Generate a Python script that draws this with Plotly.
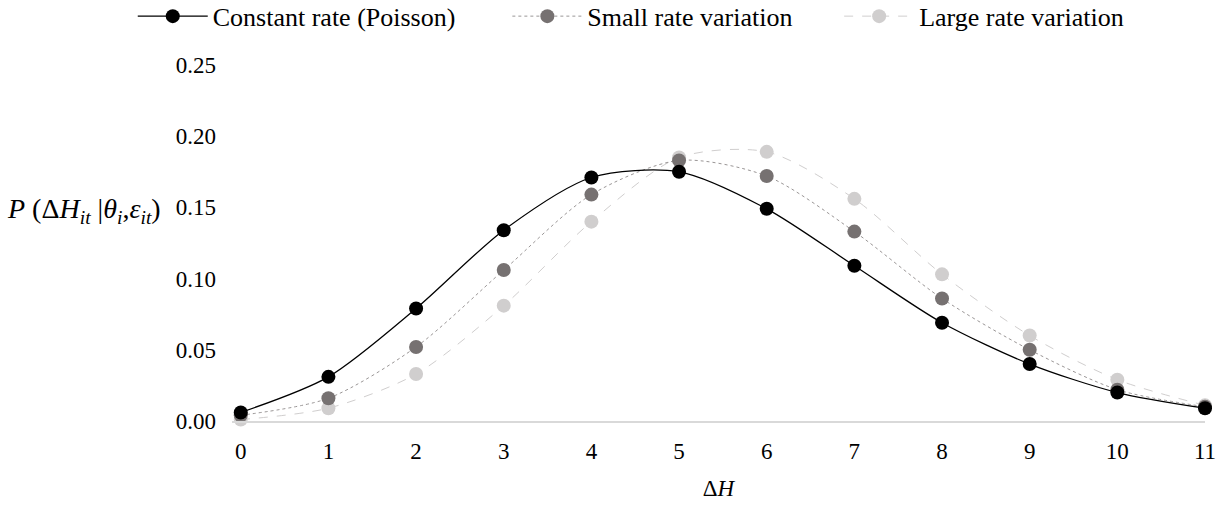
import plotly.graph_objects as go

delta_h = [0, 1, 2, 3, 4, 5, 6, 7, 8, 9, 10, 11]
tick_labels = [str(v) for v in delta_h]
constant_rate = [0.006, 0.031, 0.079, 0.134, 0.171, 0.175, 0.149, 0.109, 0.069, 0.040, 0.020, 0.009]
small_variation = [0.004, 0.016, 0.052, 0.106, 0.159, 0.183, 0.172, 0.133, 0.086, 0.050, 0.022, 0.010]
large_variation = [0.001, 0.009, 0.033, 0.081, 0.140, 0.185, 0.189, 0.156, 0.103, 0.060, 0.029, 0.011]
series_names = ["Constant rate (Poisson)", "Small rate variation", "Large rate variation"]
y_ticks = [0.00, 0.05, 0.10, 0.15, 0.20, 0.25]

FONT = "Liberation Serif"

fig = go.Figure()
styles = [
    (large_variation, "#d0cece", "#d0cece", "dash", 1.0, "legend3", series_names[2]),
    (small_variation, "#9a9696", "#767171", "dot", 1.0, "legend2", series_names[1]),
    (constant_rate, "#000000", "#000000", "solid", 1.3, "legend", series_names[0]),
]
for vals, lcol, mcol, dash, w, leg, name in styles:
    fig.add_trace(go.Scatter(
        x=delta_h, y=vals, name=name, mode="lines+markers", legend=leg,
        line=dict(color=lcol, width=w, dash=dash, shape="spline", smoothing=0.8),
        marker=dict(color=mcol, size=14),
        cliponaxis=False,
    ))

leg_common = dict(orientation="h", xanchor="left", y=1.203, yanchor="top",
                  font=dict(family=FONT, size=26), itemwidth=70, bgcolor="rgba(0,0,0,0)")

fig.update_layout(
    width=1229, height=508,
    margin=dict(l=232, r=24, t=65, b=87, autoexpand=False),
    paper_bgcolor="white", plot_bgcolor="white",
    font=dict(family=FONT, size=23, color="#000000"),
    showlegend=True,
    legend=dict(x=-0.102, **leg_common),
    legend2=dict(x=0.283, **leg_common),
    legend3=dict(x=0.624, **leg_common),
    xaxis=dict(range=[-0.1, 11.0], tickmode="array", tickvals=delta_h, ticktext=tick_labels,
               showgrid=False, zeroline=False, showline=True, linecolor="#d9d9d9", linewidth=2,
               ticks="", ticklabelstandoff=8, automargin=False,
               title=dict(text="Δ<i>H</i>", font=dict(family=FONT, size=23), standoff=17)),
    yaxis=dict(range=[0, 0.25], tickmode="array", tickvals=y_ticks,
               ticktext=[f"{v:.2f}" for v in y_ticks], automargin=False,
               showgrid=False, zeroline=False, showline=False, ticks="", ticklabelstandoff=15),
    annotations=[dict(
        text="<i>P</i> (Δ<i>H</i><sub><i>it</i></sub> |<i>θ</i><sub><i>i</i></sub>,<i>ε</i><sub><i>it</i></sub>)",
        xref="paper", yref="paper", x=-0.071, y=0.59, xanchor="right", yanchor="middle",
        showarrow=False, font=dict(family=FONT, size=28))],
)

fig.write_html("out.html", config={"displayModeBar": False},
               post_script="document.body.style.margin='0px';document.body.style.overflow='hidden';")
